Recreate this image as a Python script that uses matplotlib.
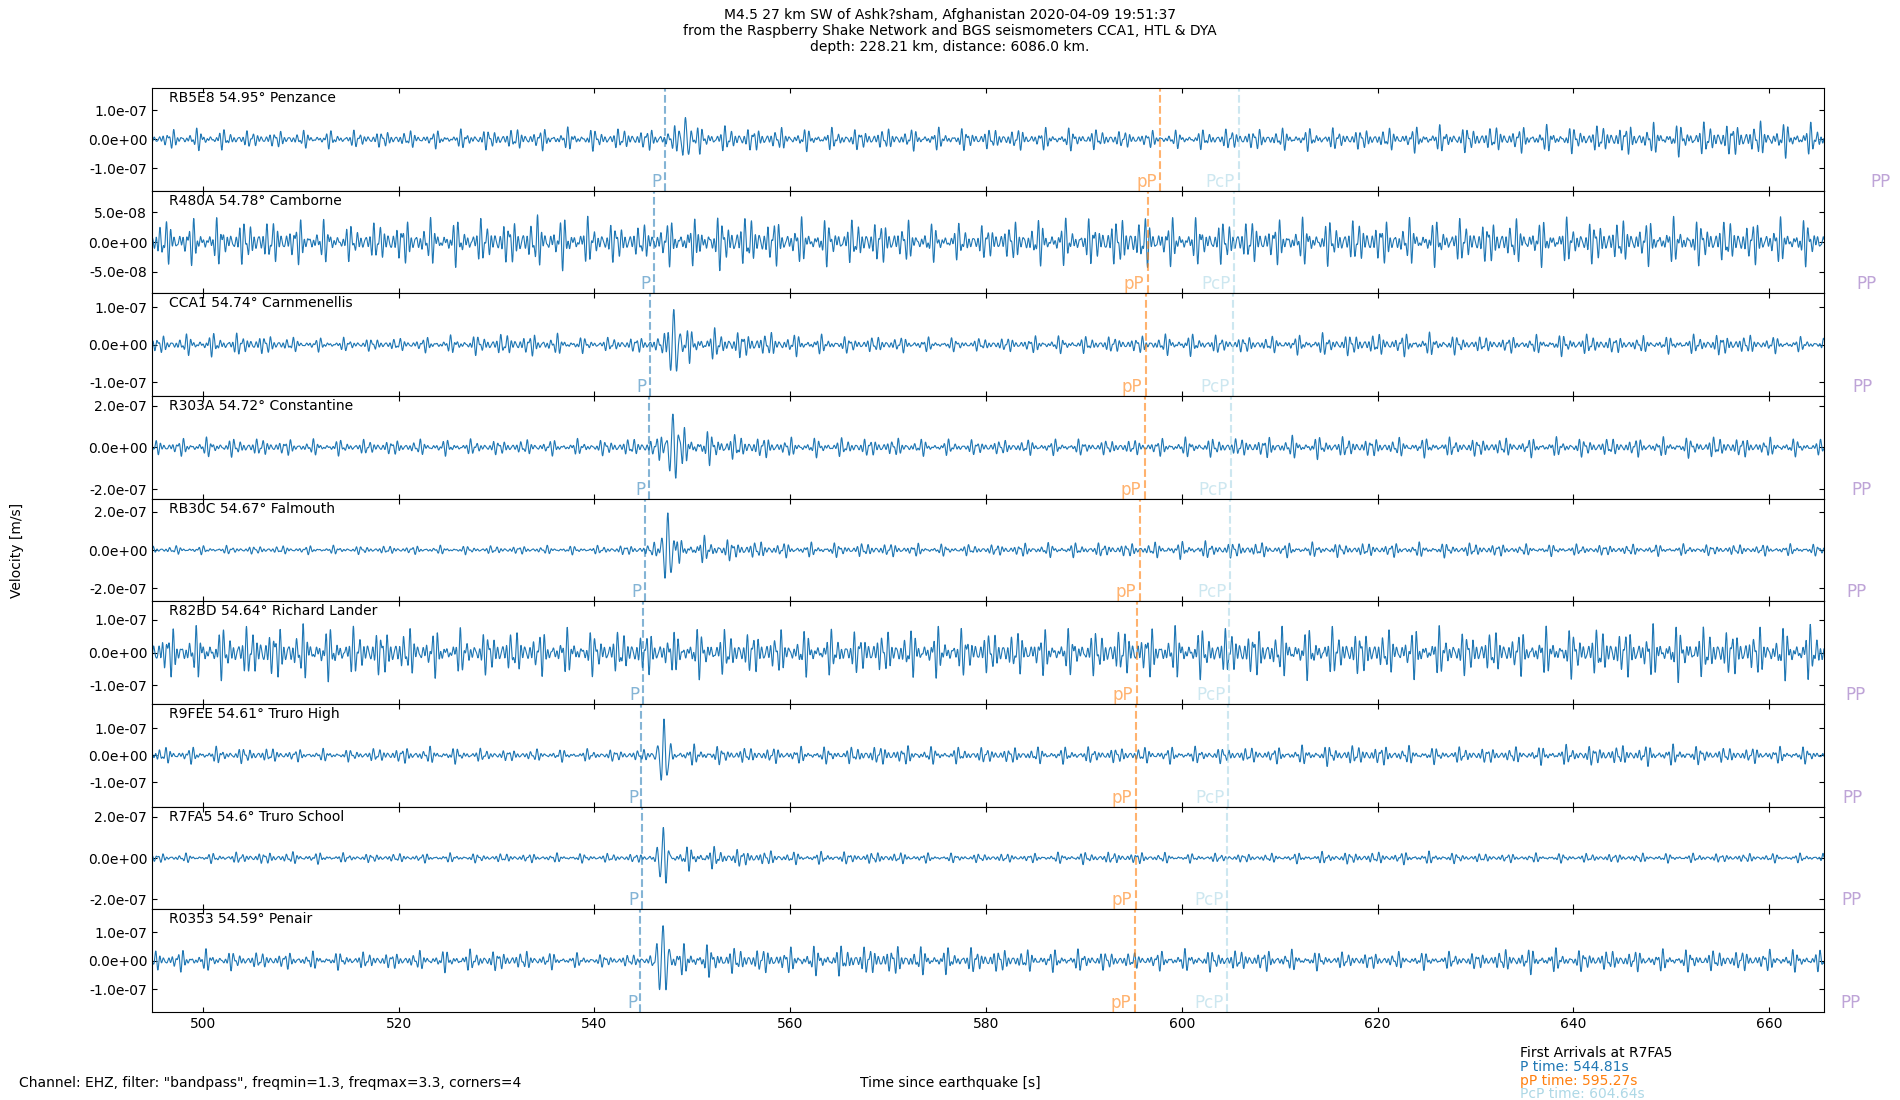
import numpy as np
import matplotlib
matplotlib.use("Agg")
import matplotlib.pyplot as plt

# stations, top to bottom
stations = ["RB5E8", "R480A", "CCA1", "R303A", "RB30C", "R82BD", "R9FEE", "R7FA5", "R0353"]
distances = ["54.95", "54.78", "54.74", "54.72", "54.67", "54.64", "54.61", "54.6", "54.59"]
places = ["Penzance", "Camborne", "Carnmenellis", "Constantine", "Falmouth",
          "Richard Lander", "Truro High", "Truro School", "Penair"]

# phase arrival times [s]
p_times = [547.2, 546.1, 545.7, 545.6, 545.2, 545.0, 544.8, 544.81, 544.7]
pp_small = [597.8, 596.5, 596.3, 596.2, 595.7, 595.4, 595.3, 595.27, 595.2]  # pP
pcp_times = [605.8, 605.3, 605.2, 605.0, 604.9, 604.8, 604.7, 604.64, 604.6]
pp_times = [672.8, 671.3, 670.9, 670.8, 670.3, 670.2, 669.9, 669.8, 669.7]

# y limits and tick value of each panel [m/s]
ylims = [1.77e-7, 8.6e-8, 1.37e-7, 2.46e-7, 2.7e-7, 1.57e-7, 1.89e-7, 2.5e-7, 1.8e-7]
ytick_vals = [1e-7, 5e-8, 1e-7, 2e-7, 2e-7, 1e-7, 1e-7, 2e-7, 1e-7]

# amplitude of the trace read every 5 s from 495 s to 665 s [1e-8 m/s]
env_t = np.arange(495, 666, 5)
env1 = [2.0, 2.5, 2.0, 2.0, 2.0, 2.0, 2.0, 2.5, 2.5, 2.5, 2.5, 3.0, 3.0, 2.5, 2.5, 2.5, 2.5, 2.5,
        2.5, 2.5, 2.0, 2.0, 2.5, 2.5, 2.5, 2.5, 3.0, 3.0, 3.0, 3.0, 3.5, 3.5, 4.0, 4.0, 3.5]
env2 = [2.5, 2.5, 2.5, 2.5, 2.0, 2.5, 2.5, 2.5, 3.0, 2.5, 2.0, 3.0, 3.0, 2.5, 2.5, 2.5, 2.0, 2.0,
        2.5, 2.5, 3.0, 2.5, 2.5, 2.5, 2.5, 2.5, 2.5, 2.5, 2.5, 2.5, 2.5, 2.5, 2.5, 2.5, 2.5]
env3 = [1.5, 2.0, 2.0, 1.2, 1.2, 1.2, 1.5, 2.0, 2.0, 1.2, 1.5, 3.0, 2.5, 2.0, 1.5, 1.5, 1.2, 1.2,
        1.5, 1.5, 1.5, 2.0, 1.5, 1.5, 2.0, 2.0, 2.0, 1.5, 1.5, 2.0, 1.5, 1.5, 2.0, 1.5, 1.2]
env4 = [2.5, 3.0, 3.0, 2.5, 2.5, 2.5, 2.5, 2.5, 2.5, 2.5, 3.0, 6.0, 4.0, 3.0, 3.0, 3.0, 2.5, 2.5,
        2.5, 2.5, 2.5, 3.0, 3.0, 3.5, 3.5, 3.0, 3.0, 3.0, 3.0, 3.0, 3.0, 3.0, 3.5, 3.0, 2.5]
env5 = [1.5, 1.5, 1.5, 1.5, 1.5, 1.5, 1.5, 1.5, 1.5, 1.5, 2.0, 5.0, 3.5, 2.5, 2.5, 2.5, 2.0, 2.0,
        2.5, 2.5, 2.5, 3.0, 3.0, 2.5, 2.5, 2.5, 2.5, 2.5, 2.0, 2.0, 2.0, 2.0, 2.0, 2.0, 2.0]
env6 = [5.0, 5.0, 5.5, 5.5, 5.0, 5.0, 4.5, 4.5, 4.5, 4.5, 4.5, 5.0, 4.5, 4.5, 4.5, 4.5, 5.0, 4.5,
        4.5, 4.5, 5.0, 5.0, 5.0, 5.0, 5.0, 4.5, 5.0, 4.5, 4.5, 5.0, 5.0, 5.5, 5.0, 5.0, 5.5]
env7 = [2.0, 2.0, 2.0, 1.5, 1.5, 2.0, 2.0, 1.5, 1.5, 1.5, 1.5, 2.5, 2.0, 2.0, 2.0, 2.5, 2.0, 2.0,
        2.0, 2.0, 2.0, 2.0, 2.0, 2.0, 2.5, 2.5, 2.0, 2.0, 2.0, 2.5, 2.5, 2.5, 2.0, 2.0, 2.0]
env8 = [1.5, 1.5, 2.0, 2.0, 1.5, 1.5, 1.5, 1.5, 1.5, 1.5, 1.5, 4.0, 3.0, 2.0, 2.0, 2.0, 1.5, 1.5,
        1.5, 2.0, 2.0, 1.5, 1.5, 1.5, 2.0, 2.0, 2.0, 1.5, 1.5, 1.5, 1.5, 1.5, 1.5, 1.5, 1.5]
env9 = [2.5, 2.5, 2.0, 2.0, 2.0, 2.0, 2.5, 2.5, 2.0, 1.5, 1.5, 4.0, 3.0, 3.0, 3.5, 3.5, 3.0, 3.0,
        2.5, 2.5, 2.0, 2.5, 2.5, 2.5, 2.0, 2.0, 2.0, 2.0, 3.0, 2.5, 2.5, 2.5, 2.5, 2.5, 2.5]
envelopes = [env1, env2, env3, env4, env5, env6, env7, env8, env9]

# main P wave pulse: time of biggest peak [s] and its height [1e-8 m/s]
pulse_t = [549.3, 550.5, 548.1, 548.0, 547.5, 548.5, 547.1, 547.0, 547.0]
pulse_amp = [8.0, 2.0, 9.5, 17.0, 19.0, 3.0, 13.5, 13.0, 13.0]

first_station = "R7FA5"
first_p, first_pp, first_pcp = 544.81, 595.27, 604.64

t_min, t_max = 494.8, 665.6
t = np.arange(t_min, t_max, 0.01)
freqs = [1.37, 1.74, 2.11, 2.56, 2.93]

fig = plt.figure(figsize=(19, 11), dpi=100)
axs = fig.subplots(9, 1, sharex=True)
plt.subplots_adjust(left=0.08, right=0.96, top=0.92, bottom=0.08, hspace=0)

for i, ax in enumerate(axs):
    # bandpassed-looking wiggle scaled by the read envelope
    wiggle = np.zeros_like(t)
    for k, f in enumerate(freqs):
        wiggle += np.sin(2 * np.pi * f * t + (i + 1) * (k + 1) * 1.3)
    wiggle = wiggle / 2.9 * np.interp(t, env_t, envelopes[i])
    dt = t - pulse_t[i]
    wiggle += pulse_amp[i] * np.exp(-(dt / 0.55) ** 2) * np.cos(2 * np.pi * 1.55 * dt)
    ax.plot(t, wiggle * 1e-8, color="tab:blue", lw=0.8)

    ymax = ylims[i]
    ax.set_ylim(-ymax, ymax)
    ax.set_xlim(t_min, t_max)
    ax.set_yticks([-ytick_vals[i], 0, ytick_vals[i]])
    ax.yaxis.set_major_formatter(matplotlib.ticker.FormatStrFormatter("%.1e"))
    ax.tick_params(direction="in", top=True, right=True)

    ax.text(0.01, 0.97, stations[i] + " " + distances[i] + "° " + places[i],
            transform=ax.transAxes, va="top", ha="left", fontsize=10)

    # phase arrivals
    ax.axvline(p_times[i], color="tab:blue", alpha=0.55, ls="--", lw=1.5)
    ax.axvline(pp_small[i], color="tab:orange", alpha=0.6, ls="--", lw=1.5)
    ax.axvline(pcp_times[i], color="lightblue", alpha=0.6, ls="--", lw=1.5)
    ax.text(p_times[i] - 0.35, -ymax, "P", color="tab:blue", alpha=0.55,
            ha="right", va="bottom", fontsize=12)
    ax.text(pp_small[i] - 0.35, -ymax, "pP", color="tab:orange", alpha=0.6,
            ha="right", va="bottom", fontsize=12)
    ax.text(pcp_times[i] - 0.35, -ymax, "PcP", color="lightblue", alpha=0.6,
            ha="right", va="bottom", fontsize=12)
    ax.text(pp_times[i] - 0.35, -ymax, "PP", color="tab:purple", alpha=0.6,
            ha="right", va="bottom", fontsize=12, clip_on=False)

axs[-1].set_xticks(np.arange(500, 661, 20))

fig.suptitle("M4.5 27 km SW of Ashk?sham, Afghanistan 2020-04-09 19:51:37\n"
             "from the Raspberry Shake Network and BGS seismometers CCA1, HTL & DYA\n"
             "depth: 228.21 km, distance: 6086.0 km.", y=0.993, va="top", fontsize=10)
fig.text(0.009, 0.5, "Velocity [m/s]", rotation=90, va="center", ha="center", fontsize=10)
fig.text(0.5, 0.0155, "Time since earthquake [s]", ha="center", va="center", fontsize=10)
fig.text(0.01, 0.0155, 'Channel: EHZ, filter: "bandpass", freqmin=1.3, freqmax=3.3, corners=4',
         ha="left", va="center", fontsize=10)

fig.text(0.8, 0.0425, "First Arrivals at " + first_station, ha="left", va="center", fontsize=10)
fig.text(0.8, 0.0298, "P time: " + str(first_p) + "s", color="tab:blue",
         ha="left", va="center", fontsize=10)
fig.text(0.8, 0.0174, "pP time: " + str(first_pp) + "s", color="tab:orange",
         ha="left", va="center", fontsize=10)
fig.text(0.8, 0.0053, "PcP time: " + str(first_pcp) + "s", color="lightblue",
         ha="left", va="center", fontsize=10)

plt.savefig("out.png", dpi=100)
